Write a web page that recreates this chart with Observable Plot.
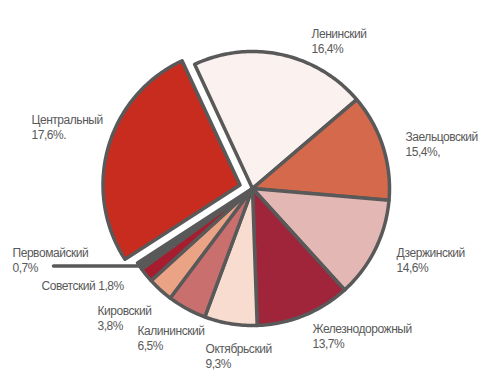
<!DOCTYPE html>
<html><head><meta charset="utf-8">
<script src="https://cdn.jsdelivr.net/npm/d3@7"></script>
<script src="https://cdn.jsdelivr.net/npm/@observablehq/plot@0.6"></script>
<style>body{margin:0;background:#fff} svg text{letter-spacing:-0.45px}</style>
</head><body><div id="chart"></div>
<script>
// ---- data ----
const districts = ["Ленинский","Заельцовский","Дзержинский","Железнодорожный","Октябрьский","Калининский","Кировский","Советский","Первомайский","Центральный"];
const labelValues = ["16,4%","15,4%,","14,6%","13,7%","9,3%","6,5%","3,8%","1,8%","0,7%","17,6%."];
// slice sizes as drawn in the picture (share of circle, %)
const sliceShares = [20.7,12.6,11.9,11.2,6.2,4.6,3.0,1.75,0.85,27.2];

// ---- styles / layout ----
const colors = ["#fbf1ee","#d4694b","#e3b7b3","#a0243a","#f8dccf","#c9706f","#eba386","#a81c30","#595959","#c72c1f"];
const explodedName = "Центральный";
const CX = 252, CY = 188, R = 137, START_DEG = -25, EXPLODE = 13;
const labelAnchors = [[311,27.5],[405,130.5],[396,246.5],[312,322.5],[205,342.5],[137,324.5],[97,304.5],[41,279.5],[12,246.5],[31,113.5]];
const singleLine = new Set(["Советский"]);
const leaderEndX = 53;

const pie = d3.pie().sort(null).value(d => d)
  .startAngle(START_DEG*Math.PI/180).endAngle(START_DEG*Math.PI/180 + 2*Math.PI);
const arcs = pie(sliceShares);

const polyPoints = [];
arcs.forEach((a, i) => {
  const name = districts[i];
  const mid = (a.startAngle + a.endAngle)/2;
  const off = name === explodedName ? EXPLODE : 0;
  const ox = CX + off*Math.sin(mid), oy = CY - off*Math.cos(mid);
  polyPoints.push({name, color: colors[i], x: ox, y: oy});
  const n = Math.max(2, Math.ceil((a.endAngle - a.startAngle)/(Math.PI/180)));
  for (let k = 0; k <= n; k++) {
    const t = a.startAngle + (a.endAngle - a.startAngle)*k/n;
    polyPoints.push({name, color: colors[i], x: ox + R*Math.sin(t), y: oy - R*Math.cos(t)});
  }
});

const labels = districts.map((d, i) => ({
  text: singleLine.has(d) ? d + " " + labelValues[i] : d + "\n" + labelValues[i],
  x: labelAnchors[i][0], y: labelAnchors[i][1]
}));

const pervIdx = districts.indexOf("Первомайский");
const pa = arcs[pervIdx], pm = (pa.startAngle + pa.endAngle)/2;
const px = CX + R*Math.sin(pm), py = CY - R*Math.cos(pm);
const leader = [{x: px, y: py}, {x: leaderEndX, y: py}];

const chart = Plot.plot({
  width: 486, height: 377, margin: 0,
  x: {domain: [0, 486], range: [0, 486], axis: null},
  y: {domain: [0, 377], range: [0, 377], axis: null},
  style: {fontFamily: "'Liberation Sans', Arial, sans-serif", background: "#fff"},
  marks: [
    Plot.line(polyPoints, {x: "x", y: "y", z: "name", fill: "color", stroke: "#595959", strokeWidth: 3.5, strokeLinejoin: "round", curve: "linear-closed"}),
    Plot.line(leader, {x: "x", y: "y", stroke: "#595959", strokeWidth: 3.5}),
    Plot.text(labels, {x: "x", y: "y", text: "text", textAnchor: "start", lineAnchor: "top", lineHeight: 1.2, fontSize: 12, fill: "#595959"})
  ]
});
document.getElementById("chart").append(chart);
</script>
</body></html>
